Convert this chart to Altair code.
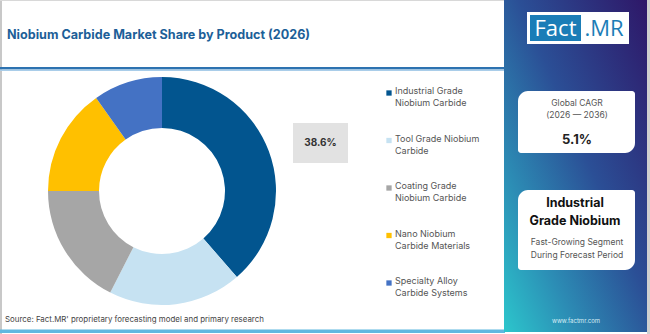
import altair as alt
import pandas as pd

# Product segments and their 2026 market share (%)
categories = [
    "Industrial Grade Niobium Carbide",
    "Tool Grade Niobium Carbide",
    "Coating Grade Niobium Carbide",
    "Nano Niobium Carbide Materials",
    "Specialty Alloy Carbide Systems",
]
legend_lines = [
    "Industrial Grade|Niobium Carbide",
    "Tool Grade Niobium|Carbide",
    "Coating Grade|Niobium Carbide",
    "Nano Niobium|Carbide Materials",
    "Specialty Alloy|Carbide Systems",
]
shares = [38.6, 18.9, 17.5, 15.2, 9.8]
colors = ["#02558f", "#c6e2f2", "#a6a6a6", "#ffc000", "#4472c4"]

title_text = "Niobium Carbide Market Share by Product (2026)"
source_text = "Source: Fact.MR' proprietary forecasting model and primary research"
cagr_label = ["Global CAGR", "(2026 \u2014 2036)"]
cagr_value = "5.1%"
segment_name = ["Industrial", "Grade Niobium"]
segment_note = ["Fast-Growing Segment", "During Forecast Period"]

W, H = 650, 334
FONT = "Inter"

df = pd.DataFrame({
    "cat": categories,
    "share": shares,
    "legend": legend_lines,
    "idx": list(range(len(categories))),
    "order": list(range(len(categories))),
})

color_scale = alt.Scale(domain=categories, range=colors)


def one():
    return alt.Data(values=[{"k": 0}])


def rect(x, x2, y, y2, **mark):
    return alt.Chart(one()).mark_rect(**mark).encode(
        x=alt.value(x), x2=alt.value(x2), y=alt.value(y), y2=alt.value(y2)
    )


def label(txt, x, y, **mark):
    mark.setdefault("font", FONT)
    return alt.Chart(one()).mark_text(text=txt, **mark).encode(
        x=alt.value(x), y=alt.value(y)
    )


layers = []

# frame
layers.append(rect(0, 2, 0, H, color="#c8c8c8"))
layers.append(rect(0, W, 0, 1, color="#d8d8d8"))
layers.append(rect(0, 505, 329.5, 333, color="#5fb8e0"))

# title and rule under it
layers.append(label(title_text, 7, 35, fontSize=12.6, fontWeight="bold",
                    color="#1d5f98", align="left", baseline="middle"))
layers.append(rect(0, 505, 67, 69.5, color="#2d72b0"))
layers.append(rect(0, 505, 69.5, 71, color="#a9cde9"))

# donut
donut = alt.Chart(df).mark_arc(innerRadius=63, outerRadius=114).encode(
    theta=alt.Theta("share:Q", stack=True),
    color=alt.Color("cat:N", scale=color_scale, legend=None),
    order=alt.Order("order:Q"),
    x=alt.value(162),
    y=alt.value(191),
)
layers.append(donut)

# value callout for the leading segment
top = df.iloc[[0]].copy()
top["lbl"] = top["share"].map(lambda v: f"{v:.1f}%")
layers.append(rect(293, 348, 123, 163, color="#e2e2e2"))
layers.append(alt.Chart(top).mark_text(font=FONT, fontSize=10, fontWeight="bold",
                                       color="#333333").encode(
    x=alt.value(320.5), y=alt.value(143), text="lbl:N"))

# legend
ypos = alt.Y("idx:Q", scale=alt.Scale(domain=[0, 4], range=[93, 283]), axis=None)
layers.append(alt.Chart(df).mark_square(size=28, opacity=1).encode(
    x=alt.value(389), y=ypos,
    color=alt.Color("cat:N", scale=color_scale, legend=None)))
layers.append(alt.Chart(df).mark_text(font=FONT, fontSize=9, color="#555555",
                                      align="left", baseline="top", dy=-6,
                                      lineBreak="|", lineHeight=12).encode(
    x=alt.value(395), y=ypos, text="legend:N"))

# source note
layers.append(label(source_text, 5, 320, fontSize=7.9, color="#444444",
                    align="left", baseline="middle"))

# side panel with gradient
grad = alt.Gradient(
    gradient="linear",
    stops=[
        alt.GradientStop(color="#2e1768", offset=0),
        alt.GradientStop(color="#2b4f96", offset=0.45),
        alt.GradientStop(color="#2c8db5", offset=0.75),
        alt.GradientStop(color="#2cc6cc", offset=1),
    ],
    x1=1, y1=0, x2=0, y2=1,
)
layers.append(rect(504, 647, 0, 332, fill=grad))
layers.append(rect(647, 650, 0, 334, color="#cfcfcf"))

# logo
layers.append(rect(527, 629, 12, 44, color="#ffffff"))
layers.append(rect(530, 581, 15, 41, color="#1b7db7"))
layers.append(label("Fact", 555.5, 29, fontSize=22, color="#ffffff",
                    baseline="middle", font="Open Sans"))
layers.append(label(".MR", 604, 29, fontSize=22, color="#1b7db7",
                    baseline="middle", font="Open Sans"))

# CAGR card
layers.append(rect(518, 635, 91, 153, color="#ffffff", cornerRadiusTopLeft=10,
                   cornerRadiusBottomRight=10, cornerRadiusTopRight=3,
                   cornerRadiusBottomLeft=3))
layers.append(label(cagr_label[0], 577, 103, fontSize=8.5, color="#555555", baseline="middle"))
layers.append(label(cagr_label[1], 577, 115, fontSize=8.5, color="#555555", baseline="middle"))
layers.append(label(cagr_value, 577, 140, fontSize=13, fontWeight="bold", color="#222222",
                    baseline="middle"))

# leading segment card
layers.append(rect(518, 635, 190, 270, color="#ffffff", cornerRadiusTopLeft=10,
                   cornerRadiusBottomRight=10, cornerRadiusTopRight=3,
                   cornerRadiusBottomLeft=3))
layers.append(label(segment_name[0], 575, 203, fontSize=12.5, fontWeight="bold",
                    color="#111111", baseline="middle"))
layers.append(label(segment_name[1], 575, 221, fontSize=12.5, fontWeight="bold",
                    color="#111111", baseline="middle"))
layers.append(label(segment_note[0], 577, 242, fontSize=8.5, color="#555555", baseline="middle"))
layers.append(label(segment_note[1], 577, 255, fontSize=8.5, color="#555555", baseline="middle"))

layers.append(label("www.factmr.com", 576, 321, fontSize=6, color="#d8eef5", baseline="middle"))

chart = alt.layer(*layers).properties(
    width=W, height=H, padding=0, autosize=alt.AutoSizeParams(type="none"),
    background="#ffffff",
).configure_view(stroke=None)

chart.save("out.html", embed_options={"renderer": "svg", "actions": False})
